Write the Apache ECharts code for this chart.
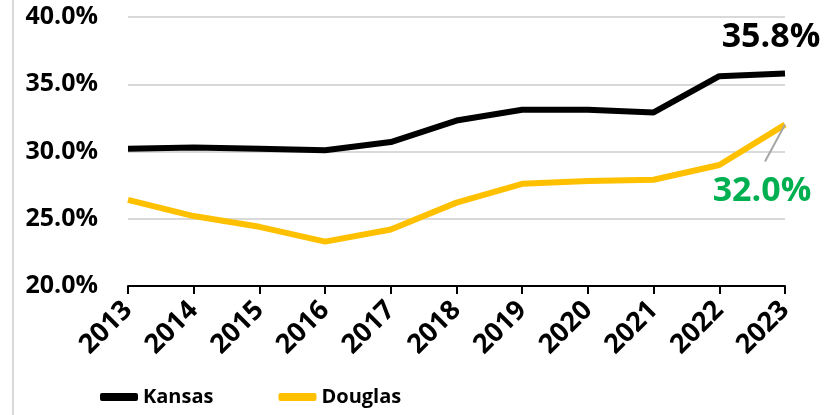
<!DOCTYPE html>
<html>
<head>
<meta charset="utf-8">
<script src="https://cdn.jsdelivr.net/npm/echarts@6/dist/echarts.min.js"></script>
<style>
  html, body { margin: 0; padding: 0; background: #fff; }
  #main { width: 824px; height: 415px; }
</style>
</head>
<body>
<div id="main"></div>
<script>
var years = ['2013', '2014', '2015', '2016', '2017', '2018', '2019', '2020', '2021', '2022', '2023'];
var kansas = [30.2, 30.3, 30.2, 30.1, 30.7, 32.3, 33.1, 33.1, 32.9, 35.6, 35.8];
var douglas = [26.4, 25.2, 24.4, 23.3, 24.2, 26.2, 27.6, 27.8, 27.9, 29.0, 32.0];

var font = '"Open Sans", "Noto Sans", sans-serif';

// only the last point gets a value label
function lastLabel(arr, label) {
    return arr.map(function (v, i) {
        if (i !== arr.length - 1) return v;
        label.show = true;
        label.formatter = v.toFixed(1) + '%';
        label.fontWeight = 'bold';
        label.fontFamily = font;
        return { value: v, label: label };
    });
}

var chart = echarts.init(document.getElementById('main'));
chart.setOption({
    animation: false,
    grid: { left: 128, right: 39, top: 17, bottom: 129 },
    legend: {
        bottom: 3,
        left: 95,
        itemWidth: 38,
        itemHeight: 8,
        itemGap: 65,
        icon: 'roundRect',
        textStyle: { fontSize: 20, fontWeight: 'bold', fontFamily: font, color: '#000' },
        data: ['Kansas', 'Douglas']
    },
    xAxis: {
        type: 'category',
        data: years,
        boundaryGap: false,
        axisLine: { lineStyle: { color: '#000', width: 2 } },
        axisTick: { show: true, length: 8, lineStyle: { color: '#000', width: 2 } },
        axisLabel: {
            rotate: 45, fontSize: 27, fontWeight: 'bold', fontFamily: font, color: '#000', margin: 20
        }
    },
    yAxis: {
        type: 'value',
        min: 20, max: 40, interval: 5,
        axisLine: { show: false },
        axisTick: { show: false },
        splitLine: { lineStyle: { color: '#d9d9d9', width: 2 } },
        axisLabel: {
            formatter: function (v) { return v.toFixed(1) + '%'; },
            fontSize: 25, fontWeight: 'bold', fontFamily: font, color: '#000', margin: 30
        }
    },
    series: [
        {
            name: 'Kansas',
            type: 'line',
            data: lastLabel(kansas, { color: '#000', fontSize: 34, position: 'top', offset: [-14, -14] }),
            symbol: 'circle',
            symbolSize: 0,
            lineStyle: { color: '#000', width: 6 },
            itemStyle: { color: '#000' }
        },
        {
            name: 'Douglas',
            type: 'line',
            data: lastLabel(douglas, { color: '#00b050', fontSize: 34, position: 'inside', offset: [-23, 67] }),
            symbol: 'circle',
            symbolSize: 0,
            lineStyle: { color: '#ffc000', width: 6 },
            itemStyle: { color: '#ffc000' }
        }
    ]
});

// chart border on the left and leader line from the last Douglas point
var last = douglas.length - 1;
var p = chart.convertToPixel({ seriesIndex: 1 }, [last, douglas[last]]);
chart.setOption({
    graphic: [{
        type: 'line',
        shape: { x1: 13, y1: 0, x2: 13, y2: 415 },
        style: { stroke: '#d9d9d9', lineWidth: 2 }
    }, {
        type: 'line',
        z: 10,
        shape: { x1: p[0], y1: p[1], x2: p[0] - 20, y2: p[1] + 37 },
        style: { stroke: '#a6a6a6', lineWidth: 2 }
    }]
});
</script>
</body>
</html>
